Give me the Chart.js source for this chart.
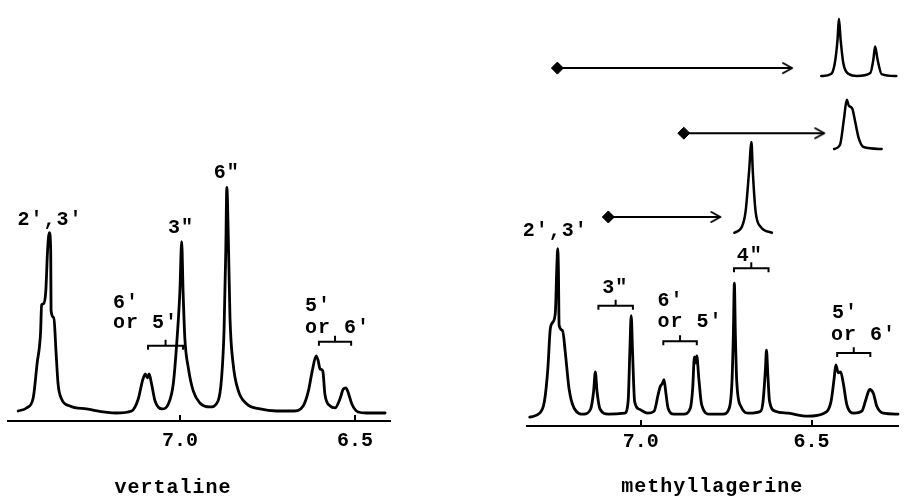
<!DOCTYPE html>
<html>
<head>
<meta charset="utf-8">
<title>vertaline / methyllagerine</title>
<script src="https://cdn.jsdelivr.net/npm/chart.js@4/dist/chart.umd.min.js"></script>
<style>
  html, body { margin: 0; padding: 0; background: #fff; }
  .panel { position: absolute; top: 0; height: 498px; }
  #left-panel { left: 0; width: 400px; }
  #right-panel { left: 500px; width: 405px; }
</style>
</head>
<body>
<div class="panel" id="left-panel"><canvas id="vertaline-chart"></canvas></div>
<div class="panel" id="right-panel"><canvas id="methyllagerine-chart"></canvas></div>
<script>
(function () {
  // chemical shift (ppm) tick labels shared by both spectra
  const TICK_VALUES = [7.0, 6.5];

  // vertaline trace: shift (ppm) and relative intensity
  const vertalineShift = [
    7.462, 7.438, 7.419, 7.408, 7.398, 7.395, 7.389, 7.383, 7.378, 7.373,
    7.369, 7.368, 7.360, 7.354, 7.348, 7.338, 7.314, 7.267, 7.181, 7.138,
    7.119, 7.107, 7.099, 7.093, 7.088, 7.081, 7.071, 7.051, 7.033, 7.019,
    7.008, 7.000, 6.995, 6.991, 6.986, 6.976, 6.962, 6.943, 6.914, 6.891,
    6.881, 6.874, 6.869, 6.866, 6.861, 6.857, 6.848, 6.833, 6.809, 6.771,
    6.724, 6.676, 6.648, 6.633, 6.622, 6.611, 6.605, 6.600, 6.592, 6.586,
    6.571, 6.557, 6.543, 6.533, 6.526, 6.519, 6.509, 6.491, 6.467, 6.414,
  ];
  const vertalineIntensity = [
    10, 13, 23, 57, 88, 116, 117, 130, 170, 188,
    170, 110, 103, 70, 37, 22, 15, 12, 8, 10,
    22, 40, 47, 43, 47, 37, 20, 12, 17, 37,
    83, 130, 179, 130, 83, 53, 30, 18, 14, 20,
    43, 90, 170, 233, 170, 103, 57, 30, 17, 12,
    10, 10, 15, 30, 50, 65, 60, 52, 50, 27,
    15, 13, 22, 32, 33, 28, 17, 9, 8, 8,
  ];

  // methyllagerine trace
  const methylShift = [
    7.325, 7.296, 7.282, 7.272, 7.265, 7.258, 7.250, 7.246, 7.243, 7.241,
    7.239, 7.229, 7.221, 7.210, 7.195, 7.167, 7.147, 7.138, 7.133, 7.128,
    7.119, 7.095, 7.047, 7.037, 7.032, 7.028, 7.024, 7.018, 7.004, 6.980,
    6.961, 6.949, 6.943, 6.937, 6.932, 6.927, 6.920, 6.903, 6.874, 6.855,
    6.848, 6.843, 6.839, 6.836, 6.830, 6.822, 6.798, 6.759, 6.741, 6.733,
    6.729, 6.726, 6.723, 6.719, 6.707, 6.683, 6.649, 6.642, 6.635, 6.632,
    6.628, 6.623, 6.606, 6.568, 6.511, 6.463, 6.443, 6.434, 6.429, 6.422,
    6.415, 6.407, 6.397, 6.376, 6.353, 6.340, 6.330, 6.319, 6.309, 6.290,
    6.247,
  ];
  const methylIntensity = [
    9, 13, 25, 58, 98, 105, 115, 158, 180, 158,
    102, 97, 75, 38, 18, 12, 17, 35, 55, 35,
    17, 12, 13, 25, 75, 112, 75, 25, 17, 13,
    15, 32, 40, 43, 47, 35, 18, 12, 12, 18,
    38, 70, 64, 71, 48, 22, 12, 12, 18, 45,
    92, 145, 92, 45, 20, 13, 15, 25, 58, 77,
    52, 25, 15, 13, 10, 13, 25, 48, 62, 54,
    55, 43, 22, 13, 15, 28, 37, 33, 20, 13,
    12,
  ];

  // decoupling insets drawn above the methyllagerine trace
  const insetTopShift = [6.472, 6.443, 6.432, 6.424, 6.420, 6.415, 6.407, 6.391, 6.367, 6.328, 6.319, 6.314, 6.307, 6.295, 6.252];
  const insetTopIntensity = [355, 357, 368, 392, 413, 392, 368, 357, 355, 358, 372, 385, 372, 357, 355];
  const insetMidShift = [6.434, 6.417, 6.405, 6.397, 6.391, 6.381, 6.372, 6.362, 6.348, 6.295];
  const insetMidIntensity = [281, 285, 312, 331, 325, 322, 308, 292, 283, 281];
  const insetLowShift = [6.726, 6.704, 6.693, 6.683, 6.676, 6.672, 6.664, 6.649, 6.616];
  const insetLowIntensity = [196, 202, 218, 258, 288, 258, 218, 202, 196];

  // irradiation arrows: from shift, to shift, level
  const arrowFrom = [7.244, 6.874, 7.095];
  const arrowTo = [6.557, 6.463, 6.767];
  const arrowLevel = [363, 297, 212];

  // coupled-pair brackets: [from, to, level]
  const vertalineBrackets = [[7.091, 6.991, 75], [6.603, 6.511, 79]];
  const methylBrackets = [[7.124, 7.023, 122], [6.934, 6.836, 86], [6.727, 6.626, 160], [6.425, 6.328, 74]];

  // peak assignments
  const vertalineLabels = ["2',3'", '3"', '6"', "6'", "or 5'", "5'", "or 6'"];
  const vertalineLabelShift = [7.371, 6.997, 6.866, 7.191, 7.191, 6.643, 6.643];
  const vertalineLabelLevel = [196, 188, 242, 113, 93, 110, 88];
  const methylLabels = ["2',3'", '3"', "6'", "or 5'", '4"', "5'", "or 6'"];
  const methylLabelShift = [7.25, 7.075, 6.951, 6.951, 6.681, 6.440, 6.443];
  const methylLabelLevel = [193, 135, 122, 100, 167, 110, 87];

  const LABEL_FONT = 'bold 20px "Liberation Mono", "DejaVu Sans Mono", monospace';

  function toPoints(xs, ys) {
    return xs.map((x, i) => ({ x, y: ys[i] }));
  }

  function bracketPoints([from, to, level]) {
    const mid = (from + to) / 2;
    return [
      { x: from, y: level - 4 },
      { x: from, y: level },
      { x: mid, y: level },
      { x: mid, y: level + 6 },
      { x: mid, y: level },
      { x: to, y: level },
      { x: to, y: level - 4 },
    ];
  }

  function labelItems(texts, shifts, levels) {
    return texts.map((text, i) => ({
      text,
      shift: shifts[i],
      level: levels[i],
      align: text.startsWith("or") || /^[56]'$/.test(text) ? "left" : "center",
    }));
  }

  function makeArrowHead() {
    const c = document.createElement("canvas");
    c.width = 24;
    c.height = 16;
    const ctx = c.getContext("2d");
    ctx.strokeStyle = "#000";
    ctx.lineWidth = 2;
    ctx.lineCap = "round";
    ctx.lineJoin = "round";
    ctx.beginPath();
    ctx.moveTo(3, 3);
    ctx.lineTo(12, 8);
    ctx.lineTo(3, 13);
    ctx.stroke();
    return c;
  }

  const arrowHead = makeArrowHead();

  function lineDataset(points, width) {
    return {
      data: points,
      borderColor: "#000",
      borderWidth: width,
      pointRadius: 0,
      tension: 0,
      cubicInterpolationMode: "monotone",
      borderJoinStyle: "round",
      borderCapStyle: "round",
      clip: false,
    };
  }

  function plainDataset(points, width) {
    return {
      data: points,
      borderColor: "#000",
      borderWidth: width,
      pointRadius: 0,
      tension: 0,
      borderJoinStyle: "miter",
      clip: false,
    };
  }

  const spectrumText = {
    id: "spectrumText",
    afterDatasetsDraw(chart, args, opts) {
      const { ctx, chartArea } = chart;
      const { x, y } = chart.scales;
      ctx.save();
      ctx.fillStyle = "#000";
      ctx.strokeStyle = "#000";
      ctx.font = LABEL_FONT;
      ctx.letterSpacing = "1px";
      ctx.textBaseline = "alphabetic";
      (opts.items || []).forEach((item) => {
        ctx.textAlign = item.align;
        ctx.fillText(item.text, x.getPixelForValue(item.shift), y.getPixelForValue(item.level));
      });

      // short tick marks standing on the axis
      ctx.lineWidth = 2;
      x.ticks.forEach((tick) => {
        const px = Math.round(x.getPixelForValue(tick.value));
        ctx.beginPath();
        ctx.moveTo(px, chartArea.bottom);
        ctx.lineTo(px, chartArea.bottom - 6);
        ctx.stroke();
      });
      ctx.restore();
    },
  };

  function buildOptions(range, padding, items) {
    return {
      responsive: true,
      maintainAspectRatio: false,
      animation: false,
      layout: { padding },
      plugins: {
        legend: { display: false },
        tooltip: { enabled: false },
        spectrumText: { items },
      },
      scales: {
        x: {
          type: "linear",
          reverse: true,
          min: range.min,
          max: range.max,
          afterBuildTicks(scale) {
            scale.ticks = TICK_VALUES.map((value) => ({ value }));
          },
          ticks: {
            autoSkip: false,
            maxRotation: 0,
            padding: range.tickPadding,
            color: "#000",
            font: { family: '"Liberation Mono", monospace', size: 20, weight: "bold", lineHeight: 1.2 },
            callback(value) {
              return Number(value).toFixed(1);
            },
          },
          grid: { display: true, drawOnChartArea: false, drawTicks: false },
          border: { display: true, color: "#000", width: 2 },
        },
        y: {
          display: false,
          min: 0,
          max: range.top,
        },
      },
    };
  }

  function renderVertaline() {
    const datasets = [
      lineDataset(toPoints(vertalineShift, vertalineIntensity), 2.8),
      ...vertalineBrackets.map((b) => plainDataset(bracketPoints(b), 2)),
    ];
    const items = labelItems(vertalineLabels, vertalineLabelShift, vertalineLabelLevel);
    items.push({ text: "vertaline", shift: 7.02, level: -72, align: "center" });

    new Chart(document.getElementById("vertaline-chart"), {
      type: "line",
      data: { datasets },
      options: buildOptions(
        { min: 6.4, max: 7.491, top: 420, tickPadding: 8 },
        { left: 8, right: 10, top: 0, bottom: 37 },
        items
      ),
      plugins: [spectrumText],
    });
  }

  function renderMethyllagerine() {
    const arrows = arrowFrom.map((from, i) => ({
      data: [{ x: from, y: arrowLevel[i] }, { x: arrowTo[i], y: arrowLevel[i] }],
      borderColor: "#000",
      borderWidth: 2,
      pointStyle: ["rectRot", arrowHead],
      pointRadius: 6,
      pointBackgroundColor: "#000",
      pointBorderColor: "#000",
      pointBorderWidth: 1,
      clip: false,
    }));

    const datasets = [
      lineDataset(toPoints(methylShift, methylIntensity), 2.8),
      lineDataset(toPoints(insetTopShift, insetTopIntensity), 2.5),
      lineDataset(toPoints(insetMidShift, insetMidIntensity), 2.5),
      lineDataset(toPoints(insetLowShift, insetLowIntensity), 2.5),
      ...arrows,
      ...methylBrackets.map((b) => plainDataset(bracketPoints(b), 2)),
    ];
    const items = labelItems(methylLabels, methylLabelShift, methylLabelLevel);
    items.push({ text: "methyllagerine", shift: 6.791, level: -67, align: "center" });

    new Chart(document.getElementById("methyllagerine-chart"), {
      type: "line",
      data: { datasets },
      options: buildOptions(
        { min: 6.247, max: 7.333, top: 425, tickPadding: 4 },
        { left: 27, right: 0, top: 0, bottom: 40 },
        items
      ),
      plugins: [spectrumText],
    });
  }

  renderVertaline();
  renderMethyllagerine();
})();
</script>
</body>
</html>
